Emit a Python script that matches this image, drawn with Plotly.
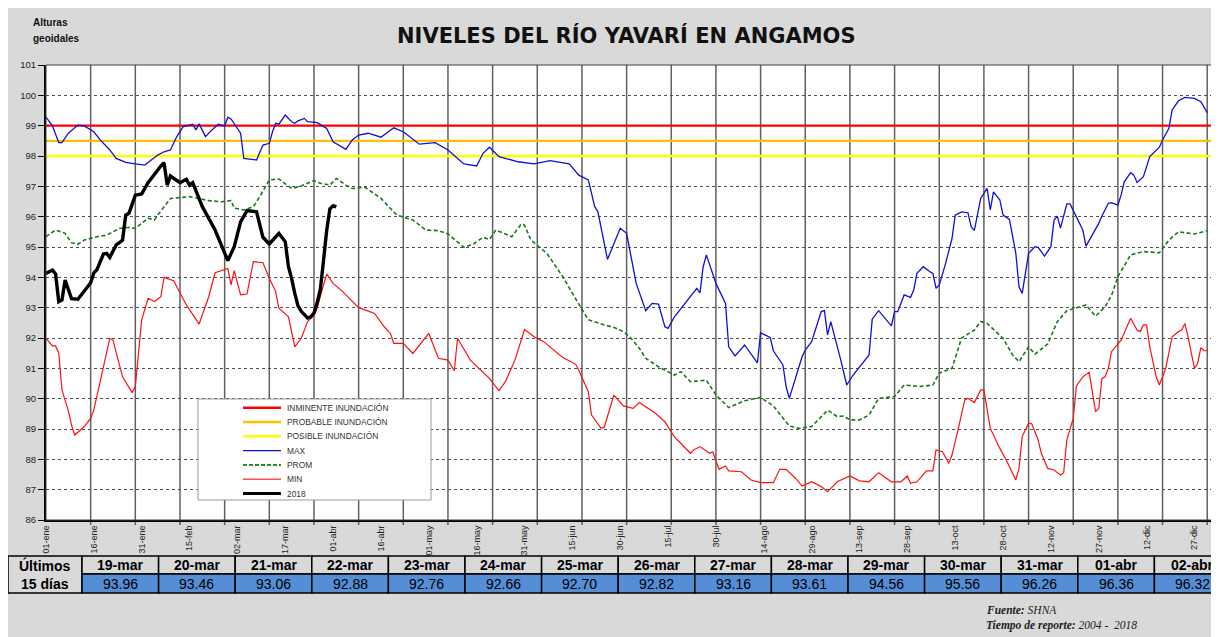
import plotly.graph_objects as go

# ---------------- DATA ----------------
xtick_labels = ["01-ene", "16-ene", "31-ene", "15-feb", "02-mar", "17-mar", "01-abr", "16-abr",
                "01-may", "16-may", "31-may", "15-jun", "30-jun", "15-jul", "30-jul", "14-ago",
                "29-ago", "13-sep", "28-sep", "13-oct", "28-oct", "12-nov", "27-nov", "12-dic", "27-dic"]
month_start = {"ene": 0, "feb": 31, "mar": 59, "abr": 90, "may": 120, "jun": 151, "jul": 181,
               "ago": 212, "sep": 243, "oct": 273, "nov": 304, "dic": 334}

threshold_names = ["INMINENTE INUNDACIÓN", "PROBABLE INUNDACIÓN", "POSIBLE INUNDACIÓN"]
threshold_levels = [99.0, 98.5, 98.0]

max_days = [0, 2, 4, 5, 7, 10, 12, 15, 17, 20, 22, 25, 28, 31, 33, 35, 37, 39, 41, 43, 46, 47, 48, 50, 52,
            54, 56, 57, 58, 61, 62, 66, 68, 70, 71, 72, 73, 75, 77, 78, 79, 81, 82, 85, 88, 90, 94, 96, 98,
            101, 105, 109, 112, 117, 122, 126, 131, 135, 137, 139, 142, 148, 153, 158, 164, 167, 170, 172,
            173, 176, 180, 182, 185, 188, 190, 192, 194, 195, 197, 200, 202, 204, 205, 206, 207, 210, 213,
            214, 216, 219, 223, 224, 227, 228, 231, 232, 233, 235, 237, 238, 240, 243, 244, 245, 246, 249,
            251, 253, 255, 258, 259, 261, 265, 266, 267, 269, 271, 272, 273, 275, 277, 278, 279, 280, 282,
            284, 285, 287, 289, 290, 291, 293, 295, 296, 297, 299, 300, 302, 304, 305, 306, 308, 310, 311,
            313, 315, 316, 317, 318, 320, 321, 323, 325, 326, 328, 330, 331, 333, 334, 336, 337, 338, 340,
            341, 342, 344, 346, 349, 350, 352, 353, 355, 357, 360, 362, 364]
max_vals = [99.28, 99.0, 98.44, 98.44, 98.75, 99.02, 98.99, 98.8, 98.53, 98.2, 97.92, 97.79, 97.74, 97.70,
            97.87, 98.03, 98.14, 98.2, 98.64, 98.97, 99.05, 98.86, 99.06, 98.64, 98.86, 99.05, 98.99, 99.28,
            99.22, 98.75, 97.92, 97.87, 98.36, 98.42, 98.8, 99.08, 99.05, 99.35, 99.13, 99.08, 99.16, 99.24,
            99.13, 99.1, 98.91, 98.47, 98.22, 98.53, 98.69, 98.75, 98.62, 98.93, 98.80, 98.39, 98.44, 98.2,
            97.74, 97.67, 98.09, 98.29, 97.98, 97.81, 97.74, 97.85, 97.74, 97.37, 97.21, 96.33, 96.16, 94.59,
            95.62, 95.45, 93.8, 92.9, 93.14, 93.12, 92.37, 92.32, 92.7, 93.12, 93.36, 93.64, 93.49, 94.35,
            94.74, 93.8, 93.14, 91.71, 91.41, 91.77, 91.18, 92.17, 92.02, 91.58, 91.11, 90.4, 90.01, 90.73,
            91.38, 91.6, 91.88, 92.87, 92.9, 92.1, 92.54, 91.33, 90.45, 90.78, 91.03, 91.44, 92.62, 92.9,
            92.4, 92.87, 92.87, 93.42, 93.34, 93.58, 94.13, 94.35, 94.19, 94.13, 93.64, 93.75, 94.46, 95.28,
            96.05, 96.16, 96.13, 95.67, 95.54, 96.6, 96.93, 96.22, 96.82, 96.55, 96.05, 95.91, 94.79, 93.69,
            93.47, 94.79, 95.01, 94.99, 94.7, 95.01, 95.89, 96.02, 95.62, 96.42, 96.42, 96.0, 95.56, 95.03,
            95.39, 95.78, 96.02, 96.44, 96.46, 96.38, 96.71, 97.15, 97.45, 97.37, 97.13, 97.32, 97.98, 98.29,
            98.53, 98.91, 99.52, 99.82, 99.93, 99.9, 99.79, 99.43]

prom_days = [0, 3, 6, 8, 10, 12, 16, 19, 23, 26, 28, 32, 34, 35, 39, 43, 45, 48, 51, 55, 58, 59, 62, 65, 67,
             70, 73, 77, 80, 84, 86, 89, 91, 94, 96, 100, 105, 110, 115, 119, 123, 126, 131, 134, 137, 139,
             141, 146, 149, 150, 152, 157, 162, 166, 170, 175, 178, 181, 183, 186, 188, 192, 197, 199, 202,
             207, 210, 214, 219, 224, 228, 233, 236, 240, 245, 248, 250, 252, 255, 258, 261, 266, 269, 274,
             278, 280, 284, 287, 291, 293, 295, 300, 303, 305, 308, 310, 314, 317, 320, 326, 329, 332, 334,
             336, 340, 344, 349, 352, 355, 360, 364]
prom_vals = [95.34, 95.56, 95.45, 95.14, 95.09, 95.23, 95.34, 95.39, 95.61, 95.65, 95.61, 95.95, 95.89,
             96.05, 96.6, 96.64, 96.66, 96.6, 96.53, 96.49, 96.53, 96.28, 96.22, 96.33, 96.66, 97.21, 97.24,
             96.93, 97.01, 97.19, 97.1, 97.04, 97.26, 97.04, 96.93, 96.97, 96.6, 96.05, 95.89, 95.56, 95.54,
             95.43, 94.99, 95.1, 95.32, 95.25, 95.56, 95.34, 95.76, 95.72, 95.23, 94.79, 94.02, 93.3, 92.6,
             92.43, 92.35, 92.21, 92.04, 91.66, 91.33, 91.05, 90.78, 90.89, 90.56, 90.61, 90.12, 89.71,
             89.93, 90.04, 89.76, 89.1, 89.02, 89.08, 89.62, 89.41, 89.43, 89.3, 89.3, 89.46, 90.01, 90.07,
             90.45, 90.4, 90.45, 90.84, 91.0, 92.0, 92.26, 92.54, 92.48, 91.99, 91.44, 91.22, 91.71, 91.47,
             91.8, 92.54, 92.9, 93.09, 92.72, 93.03, 93.4, 94.02, 94.74, 94.85, 94.81, 95.23, 95.5, 95.43,
             95.54]

min_days = [0, 2, 3, 4, 5, 7, 8, 9, 12, 14, 15, 17, 19, 20, 21, 24, 27, 28, 30, 31, 32, 34, 36, 37, 40, 44,
            48, 51, 53, 57, 58, 59, 61, 63, 65, 68, 70, 72, 73, 76, 78, 80, 82, 84, 85, 87, 88, 90, 93, 98,
            103, 106, 108, 109, 112, 115, 120, 123, 126, 128, 129, 133, 137, 139, 142, 144, 147, 150, 153,
            156, 162, 166, 167, 170, 171, 174, 175, 178, 181, 184, 186, 191, 194, 197, 199, 202, 203, 205,
            208, 209, 211, 213, 214, 218, 221, 224, 228, 230, 232, 235, 237, 240, 243, 245, 248, 252, 255,
            258, 261, 265, 268, 270, 271, 273, 276, 278, 279, 281, 283, 284, 286, 288, 289, 291, 293, 294,
            296, 299, 301, 304, 305, 306, 308, 309, 311, 312, 314, 316, 318, 319, 320, 322, 323, 325, 327,
            329, 330, 331, 332, 333, 334, 337, 340, 342, 343, 344, 345, 346, 348, 349, 351, 353, 355, 356,
            357, 358, 360, 361, 362, 363, 364]
min_vals = [91.99, 91.74, 91.74, 91.5, 90.29, 89.6, 89.13, 88.8, 89.08, 89.35, 89.63, 90.61, 91.6, 91.99,
            91.93, 90.72, 90.2, 90.4, 92.6, 93.0, 93.31, 93.2, 93.36, 94.0, 93.89, 93.09, 92.46, 93.36, 94.15,
            94.29, 93.75, 94.22, 93.42, 93.45, 94.52, 94.48, 93.97, 93.53, 92.98, 92.7, 91.71, 91.99, 92.54,
            92.76, 92.98, 93.75, 94.11, 93.8, 93.53, 93.0, 92.81, 92.37, 92.15, 91.82, 91.82, 91.49, 92.15,
            91.33, 91.27, 90.92, 91.99, 91.27, 90.89, 90.67, 90.26, 90.56, 91.27, 92.28, 92.04, 91.88, 91.36,
            91.14, 90.94, 90.23, 89.46, 89.02, 89.06, 90.12, 89.76, 89.68, 89.87, 89.52, 89.24, 88.73, 88.53,
            88.2, 88.31, 88.42, 88.2, 88.25, 87.67, 87.78, 87.62, 87.59, 87.32, 87.23, 87.23, 87.67, 87.67,
            87.37, 87.12, 87.26, 87.1, 86.93, 87.26, 87.45, 87.29, 87.26, 87.56, 87.26, 87.26, 87.45, 87.21,
            87.26, 87.62, 87.62, 88.31, 88.25, 87.87, 88.14, 89.02, 89.96, 90.01, 89.87, 90.29, 90.29, 89.02,
            88.36, 87.98, 87.32, 87.7, 88.75, 89.19, 89.17, 88.64, 88.2, 87.7, 87.65, 87.48, 87.56, 88.64,
            89.35, 90.42, 90.72, 90.87, 89.57, 89.68, 90.67, 90.72, 91.0, 91.55, 91.93, 92.65, 92.26, 92.21,
            92.43, 92.43, 91.71, 90.72, 90.45, 91.0, 92.04, 92.21, 92.26, 92.48, 92.04, 91.0, 91.16, 91.68,
            91.58, 91.58]

y2018_days = [0, 2, 3, 4, 5, 6, 7, 8, 10, 12, 14, 15, 16, 18, 19, 20, 22, 23, 24, 25, 26, 28, 30, 32, 34,
              36, 37, 38, 39, 42, 44, 45, 46, 49, 53, 57, 59, 61, 63, 66, 68, 70, 73, 75, 76]
y2018_vals = [94.13, 94.24, 94.11, 93.2, 93.25, 93.91, 93.6, 93.3, 93.28, 93.53, 93.82, 94.15, 94.26, 94.77,
              94.79, 94.66, 95.07, 95.14, 95.23, 96.05, 96.11, 96.71, 96.75, 97.12, 97.41, 97.67, 97.78,
              97.04, 97.34, 97.12, 97.23, 97.04, 97.12, 96.33, 95.56, 94.55, 95.01, 95.83, 96.2, 96.16, 95.32,
              95.1, 95.45, 95.17, 94.35]

table_dates = ["19-mar", "20-mar", "21-mar", "22-mar", "23-mar", "24-mar", "25-mar", "26-mar", "27-mar",
               "28-mar", "29-mar", "30-mar", "31-mar", "01-abr", "02-abr"]
table_vals = [93.96, 93.46, 93.06, 92.88, 92.76, 92.66, 92.70, 92.82, 93.16, 93.61, 94.56, 95.56, 96.26,
              96.36, 96.32]


def day_of_year(lbl):
    dd, mm = lbl.split("-")
    return month_start[mm] + int(dd) - 1


xtick_days = [day_of_year(t) for t in xtick_labels]
all_2018_days = y2018_days + [day_of_year(d) for d in table_dates]
all_2018_vals = y2018_vals + table_vals

# ---------------- LAYOUT HELPERS ----------------
# page pixel positions (the page body adds an 8 px margin around the figure)
OFF = 8
W, H = 1219, 637
PL, PR, PT, PB = 46, 1212, 65, 520          # plot area in page pixels
ML, MT = PL - OFF, PT - OFF
MR, MB = W - (PR - OFF), H - (PB - OFF)
PW, PH = PR - PL, PB - PT
X_MAX = 365.5
GRID_STEP = 14


def fx(x):
    return (x - PL) / PW


def fy(y):
    return 1 - (y - PT) / PH


SANS = "Liberation Sans, Arial, sans-serif"

fig = go.Figure()

th_colors = ["#ff0000", "#ffc000", "#ffff00"]
th_widths = [2.2, 2.2, 2.6]
for name, lvl, c, w in zip(threshold_names, threshold_levels, th_colors, th_widths):
    fig.add_trace(go.Scatter(x=[0, X_MAX], y=[lvl, lvl], mode="lines", name=name,
                             line=dict(color=c, width=w), hoverinfo="skip"))

fig.add_trace(go.Scatter(x=min_days, y=min_vals, mode="lines", name="MIN",
                         line=dict(color="#ff1010", width=1.2)))
fig.add_trace(go.Scatter(x=prom_days, y=prom_vals, mode="lines", name="PROM",
                         line=dict(color="#1a7a1a", width=1.6, dash="4px,2.5px")))
fig.add_trace(go.Scatter(x=max_days, y=max_vals, mode="lines", name="MAX",
                         line=dict(color="#1010d8", width=1.3)))
fig.add_trace(go.Scatter(x=all_2018_days, y=all_2018_vals, mode="lines", name="2018",
                         line=dict(color="#000000", width=3.4)))

shapes = []
# vertical gridlines every 14 days + tick marks
for d in range(GRID_STEP, 366, GRID_STEP):
    shapes.append(dict(type="line", xref="x", yref="paper", x0=d, x1=d, y0=fy(525), y1=1,
                       line=dict(color="#606060", width=1.5), layer="below"))
# plot border
shapes.append(dict(type="rect", xref="paper", yref="paper", x0=0, x1=1, y0=0, y1=1,
                   line=dict(color="#404040", width=1), layer="above"))

annotations = []
annotations.append(dict(text="<b>NIVELES DEL RÍO YAVARÍ EN ANGAMOS</b>", xref="paper", yref="paper",
                        x=fx(626), y=fy(35), xanchor="center", yanchor="middle", showarrow=False,
                        font=dict(family="DejaVu Sans, sans-serif", size=21, color="#111")))
annotations.append(dict(text="<b>Alturas</b>", xref="paper", yref="paper", x=fx(31), y=fy(23),
                        xanchor="left", yanchor="middle", showarrow=False,
                        font=dict(family=SANS, size=10, color="#111")))
annotations.append(dict(text="<b>geoidales</b>", xref="paper", yref="paper", x=fx(31), y=fy(39),
                        xanchor="left", yanchor="middle", showarrow=False,
                        font=dict(family=SANS, size=10, color="#111")))

# ---- manual legend ----
LG_X0, LG_X1, LG_Y0, LG_Y1 = 198, 431, 399, 500
shapes.append(dict(type="rect", xref="paper", yref="paper", x0=fx(LG_X0), x1=fx(LG_X1),
                   y0=fy(LG_Y1), y1=fy(LG_Y0), fillcolor="white",
                   line=dict(color="#9a9a9a", width=1), layer="above"))
legend_names = threshold_names + ["MAX", "PROM", "MIN", "2018"]
legend_styles = [("#ff0000", 2.5, "solid"), ("#ffc000", 2.5, "solid"), ("#ffff00", 2.5, "solid"),
                 ("#1010c8", 1.3, "solid"), ("#2e8b2e", 2, "4px,2px"), ("#ff5050", 1.5, "solid"),
                 ("#000000", 2.8, "solid")]
for i, (nm, (c, w, dsh)) in enumerate(zip(legend_names, legend_styles)):
    yy = 407.7 + i * 14.3
    shapes.append(dict(type="line", xref="paper", yref="paper", x0=fx(243), x1=fx(281),
                       y0=fy(yy), y1=fy(yy), line=dict(color=c, width=w, dash=dsh), layer="above"))
    annotations.append(dict(text=nm, xref="paper", yref="paper", x=fx(284.5), y=fy(yy),
                            xanchor="left", yanchor="middle", showarrow=False,
                            font=dict(family=SANS, size=8.4, color="#333")))

# ---- table ----
TB_TOP, TB_MID, TB_BOT = 556, 574, 593
C0_X0, C0_X1, CW = 8, 82, 76.6
TFONT = "Liberation Sans Narrow, Arial Narrow, Liberation Sans, sans-serif"
shapes.append(dict(type="rect", xref="paper", yref="paper", x0=fx(C0_X0), x1=fx(C0_X1),
                   y0=fy(TB_BOT), y1=fy(TB_TOP), fillcolor="#d9d9d9",
                   line=dict(color="#000", width=1.5), layer="above"))
annotations.append(dict(text="<b>Últimos</b>", xref="paper", yref="paper", x=fx((C0_X0 + C0_X1) / 2),
                        y=fy((TB_TOP + TB_MID) / 2), xanchor="center", yanchor="middle", showarrow=False,
                        font=dict(family=TFONT, size=14, color="#000")))
annotations.append(dict(text="<b>15 días</b>", xref="paper", yref="paper", x=fx((C0_X0 + C0_X1) / 2),
                        y=fy((TB_MID + TB_BOT) / 2), xanchor="center", yanchor="middle", showarrow=False,
                        font=dict(family=TFONT, size=14, color="#000")))
for i, (dt, v) in enumerate(zip(table_dates, table_vals)):
    x0 = C0_X1 + i * CW
    x1 = x0 + CW
    shapes.append(dict(type="rect", xref="paper", yref="paper", x0=fx(x0), x1=fx(x1),
                       y0=fy(TB_MID), y1=fy(TB_TOP), fillcolor="#d9d9d9",
                       line=dict(color="#000", width=1.5), layer="above"))
    shapes.append(dict(type="rect", xref="paper", yref="paper", x0=fx(x0), x1=fx(x1),
                       y0=fy(TB_BOT), y1=fy(TB_MID), fillcolor="#558ed5",
                       line=dict(color="#000", width=1.5), layer="above"))
    annotations.append(dict(text=f"<b>{dt}</b>", xref="paper", yref="paper", x=fx((x0 + x1) / 2),
                            y=fy((TB_TOP + TB_MID) / 2), xanchor="center", yanchor="middle",
                            showarrow=False, font=dict(family=TFONT, size=14, color="#000")))
    annotations.append(dict(text=f"{v:.2f}", xref="paper", yref="paper", x=fx((x0 + x1) / 2),
                            y=fy((TB_MID + TB_BOT) / 2), xanchor="center", yanchor="middle",
                            showarrow=False, font=dict(family=TFONT, size=14, color="#000")))

# ---- footer ----
SERIF = "Liberation Serif, Times New Roman, serif"
annotations.append(dict(text="<b><i>Fuente:</i></b> <i>SHNA</i>", xref="paper", yref="paper",
                        x=fx(984), y=fy(610), xanchor="left", yanchor="middle", showarrow=False,
                        font=dict(family=SERIF, size=11.5, color="#222")))
annotations.append(dict(text="<b><i>Tiempo de reporte:</i></b> <i>2004 -  2018</i>", xref="paper",
                        yref="paper", x=fx(984), y=fy(625), xanchor="left", yanchor="middle",
                        showarrow=False, font=dict(family=SERIF, size=11.5, color="#222")))

fig.update_layout(
    width=W, height=H,
    margin=dict(l=ML, r=MR, t=MT, b=MB, pad=0),
    paper_bgcolor="#d9d9d9", plot_bgcolor="white",
    showlegend=False,
    shapes=shapes, annotations=annotations,
    xaxis=dict(range=[0, X_MAX], tickmode="array", tickvals=xtick_days, ticktext=xtick_labels,
               tickangle=-90, tickfont=dict(family=SANS, size=9, color="#222"), ticks="",
               showgrid=False, zeroline=False, showline=True, linecolor="#000", linewidth=2),
    yaxis=dict(range=[86, 101], dtick=1, tick0=86, tickfont=dict(family=SANS, size=9.5, color="#222"),
               ticks="outside", ticklen=6, tickcolor="#000", showgrid=True, gridcolor="#505050",
               griddash="dot", gridwidth=1, zeroline=False, showline=True, linecolor="#000", linewidth=2),
)

fig.write_html("out.html")
